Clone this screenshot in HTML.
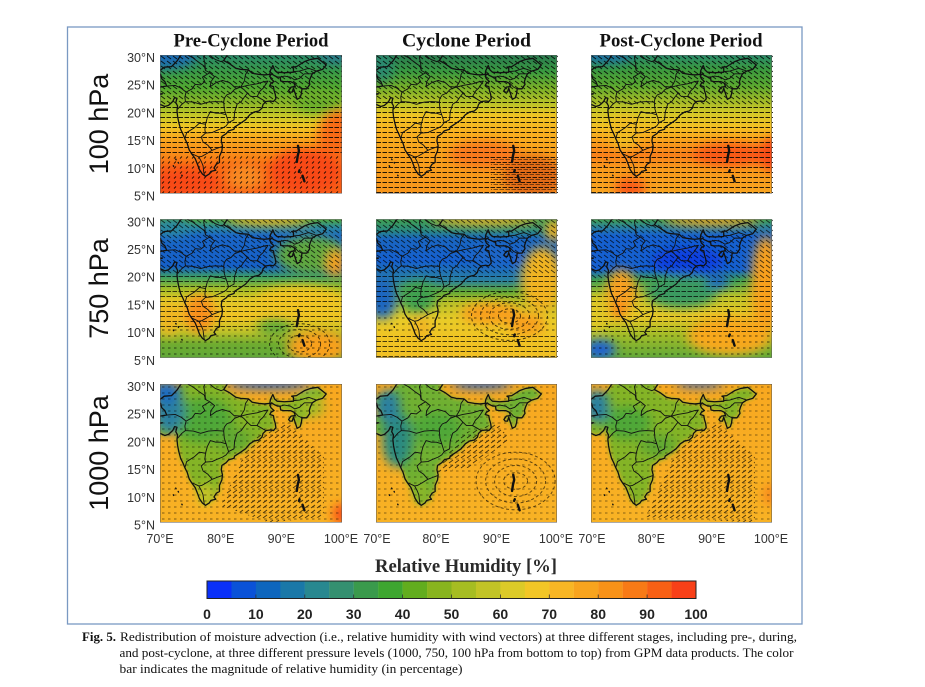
<!DOCTYPE html>
<html><head><meta charset="utf-8"><style>html,body{margin:0;padding:0;background:#fff}svg{display:block}</style></head><body>
<svg width="925" height="687" viewBox="0 0 925 687" xmlns="http://www.w3.org/2000/svg">
<defs>
<filter id="bl" filterUnits="userSpaceOnUse" x="55" y="-45" width="60" height="55"><feGaussianBlur stdDeviation="0.9"/></filter>
<filter id="bs" filterUnits="userSpaceOnUse" x="55" y="-45" width="60" height="55"><feGaussianBlur stdDeviation="0.4"/></filter>
<pattern id="H" width="6" height="5" patternUnits="userSpaceOnUse"><path d="M0.5,2.5H5" stroke="#000" stroke-width="1"/></pattern>
<pattern id="D" width="6" height="5" patternUnits="userSpaceOnUse"><path d="M1,1L5,4" stroke="#000" stroke-width="0.9"/></pattern>
<pattern id="U" width="6" height="5" patternUnits="userSpaceOnUse"><path d="M1,4L5,1" stroke="#000" stroke-width="0.9"/></pattern>
<pattern id="S" width="6" height="6" patternUnits="userSpaceOnUse"><path d="M2,3H4.5" stroke="#000" stroke-width="0.9"/></pattern>
<pattern id="T" width="6" height="5" patternUnits="userSpaceOnUse"><path d="M2,3.5L4,1.5" stroke="#000" stroke-width="0.9"/></pattern>
<clipPath id="cp"><rect x="0" y="0" width="182" height="138.5"/></clipPath>
<path id="india" vector-effect="non-scaling-stroke" stroke-linejoin="round" d="M68.2,-23.7 L68.8,-24.3 L70.0,-24.2 L71.1,-24.4 L70.8,-25.2 L70.3,-25.7 L70.1,-26.5 L69.5,-26.8 L70.0,-27.2 L70.7,-27.8 L71.9,-27.9 L72.8,-28.9 L73.4,-29.9 L74.0,-30.4 L74.6,-31.1 L76,-33 L79,-32.5 L79.2,-31.3 L80.1,-30.6 L81.1,-30.0 L80.5,-29.0 L81.5,-28.4 L82.5,-27.6 L83.3,-27.4 L84.6,-27.3 L85.2,-26.7 L86.3,-26.5 L87.2,-26.4 L88.1,-26.5 L88.2,-27.2 L88.6,-28.1 L88.9,-27.3 L89.3,-26.9 L90.5,-26.8 L92.0,-26.9 L92.0,-27.6 L91.7,-27.8 L92.5,-27.9 L93.8,-28.8 L94.8,-29.2 L96.0,-29.4 L96.6,-28.9 L97.4,-28.2 L96.8,-27.4 L95.8,-27.1 L95.1,-26.6 L94.8,-25.9 L94.6,-25.2 L94.7,-24.7 L94.2,-23.9 L93.4,-23.9 L93.3,-23.0 L93.1,-22.3 L92.6,-22.0 L92.3,-23.0 L92.0,-24.0 L91.8,-23.3 L91.4,-23.3 L91.2,-23.6 L91.6,-24.2 L92.3,-24.3 L92.1,-24.9 L91.5,-25.2 L90.4,-25.2 L89.9,-25.3 L89.8,-26.0 L89.4,-26.0 L88.8,-26.3 L88.4,-26.6 L88.1,-26.2 L88.3,-25.7 L88.8,-25.2 L88.3,-24.9 L88.1,-24.5 L88.7,-24.3 L88.8,-23.6 L89.0,-22.9 L89.1,-22.1 L88.7,-21.6 L88.2,-21.7 L87.5,-21.6 L87.0,-21.1 L86.8,-20.4 L86.3,-19.9 L85.5,-19.7 L84.8,-19.2 L84.1,-18.3 L83.3,-17.7 L82.3,-17.0 L82.2,-16.6 L81.3,-16.3 L80.9,-15.8 L80.2,-15.3 L80.1,-14.5 L80.3,-13.6 L80.2,-12.7 L79.8,-11.7 L79.8,-10.6 L79.3,-10.3 L78.9,-9.6 L79.2,-9.2 L78.4,-9.0 L78.1,-8.5 L77.5,-8.1 L77.0,-8.5 L76.5,-9.3 L76.2,-10.2 L75.8,-11.3 L75.2,-12.2 L74.8,-12.9 L74.5,-14.0 L74.1,-14.9 L73.8,-15.7 L73.4,-16.6 L73.1,-17.8 L72.9,-18.9 L72.8,-20.0 L72.9,-20.8 L72.6,-21.4 L72.8,-22.2 L72.4,-22.3 L72.1,-21.6 L71.4,-20.9 L70.8,-20.7 L70.0,-21.1 L69.2,-22.0 L69.0,-22.4 L69.8,-22.8 L70.4,-23.0 L69.7,-23.0 L68.7,-23.2 Z"/>
<g id="lines" fill="none" stroke="#111" stroke-linejoin="round">
<use href="#india" stroke-width="1.3"/>
<path vector-effect="non-scaling-stroke" stroke-width="0.9" d="M71.1,-24.4 L72.5,-24.5 L73.5,-24.0 L74.3,-23.3 L74.1,-22.4 L74.2,-21.6 L73.6,-21.1 L72.9,-20.2 M74.3,-23.3 L75.3,-23.9 L75.8,-24.7 L76.7,-24.6 L77.4,-25.2 L77.0,-26.0 L78.2,-26.8 L77.5,-27.2 L77.3,-28.0 L76.6,-28.5 L75.4,-29.5 L74.5,-30.0 M77.5,-27.2 L77.4,-28.5 L77.2,-29.5 L77.6,-30.4 L78.4,-29.8 L79.1,-29.2 L80.1,-28.8 L80.5,-29.0 M78.2,-26.8 L79.0,-26.1 L78.4,-25.2 L78.3,-24.3 L79.2,-25.0 L80.3,-25.4 L81.5,-25.0 L82.2,-24.3 L83.3,-24.2 L83.9,-25.3 L84.1,-26.5 L84.6,-27.3 M74.2,-21.6 L75.5,-21.5 L76.7,-21.1 L78.0,-21.5 L79.2,-21.6 L80.5,-21.5 L80.6,-22.2 L81.0,-22.8 L81.7,-23.1 L82.3,-23.8 L83.3,-24.2 M80.5,-21.5 L80.6,-20.2 L80.9,-19.2 L81.3,-17.8 L82.2,-18.3 L82.3,-19.7 L82.7,-21.1 L83.4,-21.6 L83.9,-22.4 L84.4,-23.1 L83.8,-23.8 L83.3,-24.2 M83.3,-24.2 L84.4,-24.5 L86.0,-24.8 L87.2,-25.2 L87.8,-25.3 L87.0,-24.0 L86.5,-23.5 L86.0,-22.5 L86.8,-22.0 L87.4,-21.6 M84.4,-23.1 L85.0,-22.5 L86.0,-22.5 M80.9,-19.2 L80.0,-19.5 L79.2,-19.5 L78.3,-19.8 L77.8,-18.7 L77.5,-17.5 L76.5,-17.7 L75.7,-16.9 L74.4,-16.0 L74.1,-14.9 M81.3,-17.8 L80.9,-17.2 L80.3,-16.8 L79.4,-16.4 L78.6,-16.0 L77.5,-15.9 L77.4,-16.5 L77.5,-17.5 M77.5,-15.9 L76.8,-15.2 L77.1,-14.3 L77.9,-13.7 L78.6,-12.8 L79.3,-13.1 L80.3,-13.5 M78.6,-12.8 L77.7,-12.2 L76.9,-11.7 L76.4,-11.6 L75.2,-12.2 M76.4,-11.6 L76.8,-10.8 L77.1,-10.0 L77.2,-9.0 L77.3,-8.3 M89.8,-26.0 L90.5,-26.2 L91.5,-26.0 L92.2,-25.5 L93.0,-25.8 L93.8,-26.6 L95.1,-26.6 M92.2,-24.9 L92.8,-24.2 L93.4,-23.9 M92.0,-27.0 L93.0,-27.1 L94.5,-27.6 L95.8,-27.1"/>
<path vector-effect="non-scaling-stroke" stroke-width="2.4" stroke-linecap="round" d="M92.75,-13.6 L92.9,-12.7 L92.7,-11.8 L92.55,-10.7 M93.0,-9.2 L92.9,-8.9 M93.5,-8.2 L93.8,-7.2"/>
<path vector-effect="non-scaling-stroke" stroke-width="1.4" stroke-linecap="round" d="M72.6,-11.2 l0.05,0.1 M73.0,-10.6 l0.05,0.1 M72.2,-10.0 l0.05,0.1 M73.6,-8.3 l0.05,0.1"/>
<rect x="70" y="-30" width="30" height="25" fill="none" stroke="#555" stroke-width="1" vector-effect="non-scaling-stroke"/>
</g>
<linearGradient id="g11" gradientUnits="userSpaceOnUse" x1="0" y1="-30" x2="0" y2="-5"><stop offset="0" stop-color="#2a8a6a"/><stop offset=".12" stop-color="#3a9a46"/><stop offset=".24" stop-color="#52a830"/><stop offset=".36" stop-color="#94b828"/><stop offset=".44" stop-color="#c8c828"/><stop offset=".52" stop-color="#f0c424"/><stop offset=".6" stop-color="#f8a81e"/><stop offset=".72" stop-color="#f88a18"/><stop offset=".8" stop-color="#f86a16"/><stop offset="1" stop-color="#f85c16"/></linearGradient>
<linearGradient id="g12" gradientUnits="userSpaceOnUse" x1="0" y1="-30" x2="0" y2="-5"><stop offset="0" stop-color="#2a7a50"/><stop offset=".12" stop-color="#3a9a40"/><stop offset=".24" stop-color="#7ab028"/><stop offset=".36" stop-color="#c0c428"/><stop offset=".44" stop-color="#f0c424"/><stop offset=".56" stop-color="#f8b020"/><stop offset=".72" stop-color="#f8a01c"/><stop offset="1" stop-color="#f8961c"/></linearGradient>
<linearGradient id="g13" gradientUnits="userSpaceOnUse" x1="0" y1="-30" x2="0" y2="-5"><stop offset="0" stop-color="#2a8a6a"/><stop offset=".1" stop-color="#3a9840"/><stop offset=".22" stop-color="#5aa830"/><stop offset=".32" stop-color="#9ab828"/><stop offset=".42" stop-color="#d4c828"/><stop offset=".52" stop-color="#f4c024"/><stop offset=".62" stop-color="#f8a01c"/><stop offset=".72" stop-color="#f8801a"/><stop offset=".82" stop-color="#f89a1c"/><stop offset="1" stop-color="#f8a420"/></linearGradient>
<linearGradient id="g21" gradientUnits="userSpaceOnUse" x1="0" y1="-30" x2="0" y2="-5"><stop offset="0" stop-color="#50a840"/><stop offset=".06" stop-color="#2a88a0"/><stop offset=".12" stop-color="#1a66c8"/><stop offset=".34" stop-color="#1560c8"/><stop offset=".42" stop-color="#40a060"/><stop offset=".5" stop-color="#a0bc28"/><stop offset=".58" stop-color="#e0c828"/><stop offset=".7" stop-color="#f0c424"/><stop offset=".8" stop-color="#c8c428"/><stop offset=".9" stop-color="#70ac30"/><stop offset="1" stop-color="#60a838"/></linearGradient>
<linearGradient id="g22" gradientUnits="userSpaceOnUse" x1="0" y1="-30" x2="0" y2="-5"><stop offset="0" stop-color="#40a050"/><stop offset=".08" stop-color="#2a8a80"/><stop offset=".14" stop-color="#1a66c0"/><stop offset=".3" stop-color="#1560d0"/><stop offset=".44" stop-color="#2a80a0"/><stop offset=".52" stop-color="#60a838"/><stop offset=".6" stop-color="#b8c028"/><stop offset=".72" stop-color="#e8cc28"/><stop offset=".85" stop-color="#f0c424"/><stop offset="1" stop-color="#f0c024"/></linearGradient>
<linearGradient id="g23" gradientUnits="userSpaceOnUse" x1="0" y1="-30" x2="0" y2="-5"><stop offset="0" stop-color="#40a050"/><stop offset=".06" stop-color="#2a80a0"/><stop offset=".12" stop-color="#1560d0"/><stop offset=".36" stop-color="#1560d0"/><stop offset=".44" stop-color="#40a050"/><stop offset=".56" stop-color="#c0c428"/><stop offset=".7" stop-color="#e8c828"/><stop offset=".84" stop-color="#a0bc28"/><stop offset="1" stop-color="#60a838"/></linearGradient>
<linearGradient id="g3" gradientUnits="userSpaceOnUse" x1="0" y1="-30" x2="0" y2="-5"><stop offset="0" stop-color="#f8a820"/><stop offset="1" stop-color="#f8b224"/></linearGradient>
</defs>

<rect x="67.5" y="27" width="734.5" height="597" fill="none" stroke="#7a99c2" stroke-width="1.3"/>

<g font-family="Liberation Serif, serif" font-weight="bold" font-size="18.5" fill="#111" text-anchor="middle">
<text x="251" y="46.5" textLength="155" lengthAdjust="spacingAndGlyphs">Pre-Cyclone Period</text>
<text x="466.5" y="46.5" textLength="129" lengthAdjust="spacingAndGlyphs">Cyclone Period</text>
<text x="681" y="46.5" textLength="163" lengthAdjust="spacingAndGlyphs">Post-Cyclone Period</text>
</g>

<g font-family="Liberation Sans, sans-serif" font-size="27" fill="#111" text-anchor="middle">
<text transform="translate(108,124) rotate(-90)">100 hPa</text>
<text transform="translate(108,288.5) rotate(-90)">750 hPa</text>
<text transform="translate(108,453) rotate(-90)">1000 hPa</text>
</g>

<g font-family="Liberation Sans, sans-serif" font-size="12.5" fill="#333" text-anchor="end">
<text x="155" y="62">30°N</text><text x="155" y="89.7">25°N</text><text x="155" y="117.4">20°N</text><text x="155" y="145.1">15°N</text><text x="155" y="172.8">10°N</text><text x="155" y="200.5">5°N</text>
<text x="155" y="226.3">30°N</text><text x="155" y="254">25°N</text><text x="155" y="281.7">20°N</text><text x="155" y="309.4">15°N</text><text x="155" y="337.1">10°N</text><text x="155" y="364.8">5°N</text>
<text x="155" y="391">30°N</text><text x="155" y="418.7">25°N</text><text x="155" y="446.4">20°N</text><text x="155" y="474.1">15°N</text><text x="155" y="501.8">10°N</text><text x="155" y="529.5">5°N</text>
</g>
<g font-family="Liberation Sans, sans-serif" font-size="12.5" fill="#333" text-anchor="middle">
<text x="160" y="542.8">70°E</text><text x="220.7" y="542.8">80°E</text><text x="281.3" y="542.8">90°E</text><text x="341" y="542.8">100°E</text>
<text x="377" y="542.8">70°E</text><text x="436" y="542.8">80°E</text><text x="496.5" y="542.8">90°E</text><text x="556" y="542.8">100°E</text>
<text x="592" y="542.8">70°E</text><text x="651.3" y="542.8">80°E</text><text x="711.7" y="542.8">90°E</text><text x="771" y="542.8">100°E</text>
</g>

<!-- ===== Row 1 ===== -->
<svg x="160" y="55" width="182" height="138.5" viewBox="70 -30 30 25" preserveAspectRatio="none">
<rect x="60" y="-40" width="50" height="45" fill="url(#g11)"/>
<g filter="url(#bl)">
<ellipse cx="71" cy="-30" rx="5" ry="2.5" fill="#1a6cb0"/>
<ellipse cx="99" cy="-30" rx="3" ry="1.5" fill="#2a7a8a"/>
<ellipse cx="99.5" cy="-15" rx="3.5" ry="5" fill="#f86a18"/>
<ellipse cx="74" cy="-7" rx="6" ry="2.5" fill="#f84a18"/>
<ellipse cx="94" cy="-9" rx="6" ry="4" fill="#f84a18"/>
<ellipse cx="84" cy="-8" rx="3" ry="2.5" fill="#f88a20"/>
<ellipse cx="96" cy="-21.5" rx="4" ry="2" fill="#6aae2c"/>
</g>
</svg>
<g transform="translate(160,55)" clip-path="url(#cp)" opacity=".85">
<rect x="0" y="0" width="182" height="50" fill="url(#D)"/><rect x="0" y="50" width="182" height="50" fill="url(#H)"/><rect x="0" y="100" width="182" height="39" fill="url(#T)"/>
</g>
<svg x="160" y="55" width="182" height="138.5" viewBox="70 -30 30 25" preserveAspectRatio="none"><use href="#lines"/></svg>

<svg x="376" y="55" width="181" height="138.5" viewBox="70 -30 30 25" preserveAspectRatio="none">
<rect x="60" y="-40" width="50" height="45" fill="url(#g12)"/>
<g filter="url(#bl)">
<ellipse cx="96" cy="-8" rx="5" ry="4" fill="#e06a18"/>
<ellipse cx="88" cy="-12" rx="6" ry="2.5" fill="#f8781a"/>
<ellipse cx="71" cy="-28" rx="2" ry="3" fill="#2a8a70"/>
</g>
</svg>
<g transform="translate(376,55)" clip-path="url(#cp)" opacity=".85">
<rect x="0" y="0" width="182" height="44" fill="url(#D)"/><rect x="0" y="44" width="182" height="95" fill="url(#H)"/>
<g transform="translate(3,2)" opacity=".55"><rect x="112" y="98" width="70" height="40" fill="url(#H)"/></g>
</g>
<svg x="376" y="55" width="181" height="138.5" viewBox="70 -30 30 25" preserveAspectRatio="none"><use href="#lines"/></svg>

<svg x="591" y="55" width="181" height="138.5" viewBox="70 -30 30 25" preserveAspectRatio="none">
<rect x="60" y="-40" width="50" height="45" fill="url(#g13)"/>
<g filter="url(#bl)">
<ellipse cx="72" cy="-30" rx="5" ry="1.5" fill="#1a70a0"/>
<ellipse cx="93" cy="-12" rx="6" ry="2" fill="#f85818"/>
<ellipse cx="100" cy="-12" rx="2" ry="3" fill="#f84818"/>
<ellipse cx="76.5" cy="-6" rx="2.5" ry="1.8" fill="#f85818"/>
<ellipse cx="75.5" cy="-16" rx="2.5" ry="3" fill="#f0bc24"/>
</g>
</svg>
<g transform="translate(591,55)" clip-path="url(#cp)" opacity=".85">
<rect x="0" y="0" width="182" height="50" fill="url(#D)"/><rect x="0" y="50" width="182" height="89" fill="url(#H)"/>
</g>
<svg x="591" y="55" width="181" height="138.5" viewBox="70 -30 30 25" preserveAspectRatio="none"><use href="#lines"/></svg>

<!-- ===== Row 2 ===== -->
<svg x="160" y="219.3" width="182" height="138.5" viewBox="70 -30 30 25" preserveAspectRatio="none">
<rect x="60" y="-40" width="50" height="45" fill="url(#g21)"/>
<g filter="url(#bl)">
<ellipse cx="88" cy="-29.8" rx="7" ry="0.9" fill="#f0b020"/>
<ellipse cx="95" cy="-23.5" rx="6" ry="3.5" fill="#60a840"/>
<ellipse cx="99" cy="-22" rx="1.5" ry="2.5" fill="#f8a01c"/>
<ellipse cx="93" cy="-15.5" rx="7" ry="2.5" fill="#f0c424"/>
<ellipse cx="76.5" cy="-13" rx="2.5" ry="3.5" fill="#f8901a"/>
<ellipse cx="71.5" cy="-12" rx="1.5" ry="3" fill="#f0b424"/>
<ellipse cx="89" cy="-10.5" rx="3" ry="1.5" fill="#60a838"/>
<ellipse cx="96" cy="-7" rx="5" ry="3" fill="#f8a01c"/>
<ellipse cx="72" cy="-28.5" rx="3" ry="1.5" fill="#2a88a0"/>
</g>
</svg>
<g transform="translate(160,219)" clip-path="url(#cp)" opacity=".7">
<rect x="0" y="0" width="182" height="55" fill="url(#D)"/><rect x="0" y="55" width="182" height="55" fill="url(#H)"/><rect x="0" y="110" width="182" height="29" fill="url(#S)"/>
<g fill="none" stroke="#000" stroke-width="1" stroke-dasharray="3 2.5"><ellipse cx="139.6" cy="124.7" rx="12" ry="8.3"/><ellipse cx="139.6" cy="124.7" rx="21" ry="14.4"/><ellipse cx="139.6" cy="124.7" rx="30" ry="20"/></g>
</g>
<svg x="160" y="219.3" width="182" height="138.5" viewBox="70 -30 30 25" preserveAspectRatio="none"><use href="#lines"/></svg>

<svg x="376" y="219.3" width="181" height="138.5" viewBox="70 -30 30 25" preserveAspectRatio="none">
<rect x="60" y="-40" width="50" height="45" fill="url(#g22)"/>
<g filter="url(#bl)">
<ellipse cx="88" cy="-29.8" rx="9" ry="0.9" fill="#f0b020"/>
<ellipse cx="97.5" cy="-19" rx="3.5" ry="6" fill="#f0b424"/>
<ellipse cx="99.5" cy="-28" rx="1.5" ry="2" fill="#f0b020"/>
<ellipse cx="89" cy="-23.5" rx="4" ry="2" fill="#1a66c8"/>
<ellipse cx="71" cy="-16" rx="2.5" ry="4" fill="#1a66c0"/>
<ellipse cx="77" cy="-16" rx="3" ry="3" fill="#40a050"/>
<ellipse cx="89" cy="-13" rx="5" ry="2" fill="#f8a01c"/>
<ellipse cx="95" cy="-11" rx="3" ry="2" fill="#f8a01c"/>
<ellipse cx="77.5" cy="-10.5" rx="1.5" ry="2" fill="#f0b424"/>
</g>
</svg>
<g transform="translate(376,219)" clip-path="url(#cp)" opacity=".7">
<rect x="0" y="0" width="182" height="55" fill="url(#D)"/><rect x="0" y="55" width="182" height="28" fill="url(#H)"/><rect x="0" y="83" width="182" height="33" fill="url(#S)"/><rect x="0" y="116" width="182" height="23" fill="url(#H)"/>
<g fill="none" stroke="#000" stroke-width="1" stroke-dasharray="3 2.5"><ellipse cx="133.5" cy="97" rx="11" ry="7.2"/><ellipse cx="133.5" cy="97" rx="20" ry="13.3"/><ellipse cx="133.5" cy="97" rx="29" ry="18.8"/><ellipse cx="133.5" cy="97" rx="38" ry="24.4"/></g>
</g>
<svg x="376" y="219.3" width="181" height="138.5" viewBox="70 -30 30 25" preserveAspectRatio="none"><use href="#lines"/></svg>

<svg x="591" y="219.3" width="181" height="138.5" viewBox="70 -30 30 25" preserveAspectRatio="none">
<rect x="60" y="-40" width="50" height="45" fill="url(#g23)"/>
<g filter="url(#bl)">
<ellipse cx="90" cy="-29.8" rx="8" ry="0.9" fill="#f8a01c"/>
<ellipse cx="86" cy="-22.5" rx="6" ry="2.5" fill="#0a40e0"/>
<ellipse cx="75" cy="-17" rx="2.5" ry="4" fill="#f8a020"/>
<ellipse cx="74.5" cy="-13.5" rx="1.2" ry="1.2" fill="#f87818"/>
<ellipse cx="85" cy="-17" rx="6" ry="3" fill="#3a9a60"/>
<ellipse cx="91" cy="-19" rx="2" ry="1.5" fill="#1a66c0"/>
<ellipse cx="99" cy="-18" rx="2.5" ry="9" fill="#f8a01c"/>
<ellipse cx="93" cy="-9" rx="7" ry="3.5" fill="#f8a81e"/>
<ellipse cx="71.5" cy="-6.5" rx="2.5" ry="1.8" fill="#1a60d0"/>
<ellipse cx="71" cy="-13" rx="2" ry="3" fill="#e0c828"/>
</g>
</svg>
<g transform="translate(591,219)" clip-path="url(#cp)" opacity=".7">
<rect x="0" y="0" width="182" height="61" fill="url(#D)"/><rect x="0" y="61" width="182" height="55" fill="url(#H)"/><rect x="0" y="116" width="182" height="23" fill="url(#S)"/>
</g>
<svg x="591" y="219.3" width="181" height="138.5" viewBox="70 -30 30 25" preserveAspectRatio="none"><use href="#lines"/></svg>

<!-- ===== Row 3 ===== -->
<svg x="160" y="384" width="182" height="138.5" viewBox="70 -30 30 25" preserveAspectRatio="none">
<rect x="60" y="-40" width="50" height="45" fill="url(#g3)"/>
<use href="#india" fill="#84b428" stroke="none" filter="url(#bs)"/>
<g filter="url(#bl)">
<ellipse cx="77" cy="-23.5" rx="5" ry="4" fill="#50a838"/>
<ellipse cx="82" cy="-20" rx="3" ry="2" fill="#60a830"/>
<ellipse cx="71.5" cy="-25" rx="2.5" ry="4" fill="#2a80a0"/>
<ellipse cx="71" cy="-28.5" rx="2.5" ry="2" fill="#1a6cc0"/>
<ellipse cx="88" cy="-30" rx="7" ry="0.8" fill="#1a60d0"/>
<ellipse cx="77.5" cy="-10" rx="1.2" ry="2" fill="#d8c828"/>
<ellipse cx="100" cy="-6.5" rx="1.5" ry="2" fill="#f85018"/>
<ellipse cx="95" cy="-26" rx="2" ry="2" fill="#a0bc28"/>
</g>
</svg>
<g transform="translate(160,384)" clip-path="url(#cp)">
<rect x="0" y="0" width="182" height="139" fill="url(#S)" opacity=".55"/>
<polygon points="60.7,121.9 91,55.4 127.5,38.8 163.9,72 163.9,133 109.3,138.5" fill="url(#U)" opacity=".7"/>
</g>
<svg x="160" y="384" width="182" height="138.5" viewBox="70 -30 30 25" preserveAspectRatio="none"><use href="#lines"/></svg>

<svg x="376" y="384" width="181" height="138.5" viewBox="70 -30 30 25" preserveAspectRatio="none">
<rect x="60" y="-40" width="50" height="45" fill="url(#g3)"/>
<use href="#india" fill="#70b030" stroke="none" filter="url(#bs)"/>
<g filter="url(#bl)">
<ellipse cx="73.5" cy="-20" rx="2.5" ry="5" fill="#2a8a80"/>
<ellipse cx="72" cy="-26" rx="2" ry="3" fill="#2a80a0"/>
<ellipse cx="87.5" cy="-30" rx="5" ry="0.8" fill="#1a60d0"/>
<ellipse cx="80" cy="-22" rx="4" ry="3" fill="#50a838"/>
<ellipse cx="77.5" cy="-10.5" rx="1.2" ry="2" fill="#90b828"/>
</g>
</svg>
<g transform="translate(376,384)" clip-path="url(#cp)">
<rect x="0" y="0" width="182" height="139" fill="url(#S)" opacity=".5"/>
<polygon points="60.7,88.6 85,49.9 121.4,38.8 133.5,55.4 97.1,83.1" fill="url(#U)" opacity=".7"/>
<g fill="none" stroke="#000" stroke-width="1" stroke-dasharray="3 2.5" opacity=".6"><ellipse cx="139.6" cy="97" rx="12" ry="8.3"/><ellipse cx="139.6" cy="97" rx="21" ry="15.5"/><ellipse cx="139.6" cy="97" rx="30" ry="22"/><ellipse cx="139.6" cy="97" rx="39.5" ry="28.8"/></g>
</g>
<svg x="376" y="384" width="181" height="138.5" viewBox="70 -30 30 25" preserveAspectRatio="none"><use href="#lines"/></svg>

<svg x="591" y="384" width="181" height="138.5" viewBox="70 -30 30 25" preserveAspectRatio="none">
<rect x="60" y="-40" width="50" height="45" fill="url(#g3)"/>
<use href="#india" fill="#84b428" stroke="none" filter="url(#bs)"/>
<g filter="url(#bl)">
<ellipse cx="76" cy="-23" rx="4" ry="3" fill="#50a838"/>
<ellipse cx="71" cy="-26" rx="2" ry="3" fill="#2a80a0"/>
<ellipse cx="88" cy="-30" rx="4" ry="0.6" fill="#2060d0"/>
<ellipse cx="100" cy="-10" rx="1.5" ry="2" fill="#f88a1c"/>
<ellipse cx="81" cy="-19" rx="3" ry="2" fill="#60a830"/>
</g>
</svg>
<g transform="translate(591,384)" clip-path="url(#cp)">
<rect x="0" y="0" width="182" height="139" fill="url(#S)" opacity=".5"/>
<polygon points="54.6,133 91,55.4 127.5,38.8 163.9,72 163.9,138.5" fill="url(#U)" opacity=".7"/>
</g>
<svg x="591" y="384" width="181" height="138.5" viewBox="70 -30 30 25" preserveAspectRatio="none"><use href="#lines"/></svg>

<!-- colorbar -->
<text x="466" y="572" font-family="Liberation Serif, serif" font-weight="bold" font-size="18.5" fill="#2a2a2a" text-anchor="middle" textLength="182" lengthAdjust="spacingAndGlyphs">Relative Humidity [%]</text>
<g>
<rect x="207" y="581" width="24.6" height="17.5" fill="#0a30f8"/>
<rect x="231.45" y="581" width="24.6" height="17.5" fill="#0a52d8"/>
<rect x="255.9" y="581" width="24.6" height="17.5" fill="#0e66be"/>
<rect x="280.35" y="581" width="24.6" height="17.5" fill="#1a78a8"/>
<rect x="304.8" y="581" width="24.6" height="17.5" fill="#288890"/>
<rect x="329.25" y="581" width="24.6" height="17.5" fill="#349070"/>
<rect x="353.7" y="581" width="24.6" height="17.5" fill="#3a9a4c"/>
<rect x="378.15" y="581" width="24.6" height="17.5" fill="#3ea630"/>
<rect x="402.6" y="581" width="24.6" height="17.5" fill="#62ad1e"/>
<rect x="427.05" y="581" width="24.6" height="17.5" fill="#88b41e"/>
<rect x="451.5" y="581" width="24.6" height="17.5" fill="#a6bd22"/>
<rect x="475.95" y="581" width="24.6" height="17.5" fill="#c2c426"/>
<rect x="500.4" y="581" width="24.6" height="17.5" fill="#dcca28"/>
<rect x="524.85" y="581" width="24.6" height="17.5" fill="#f2c626"/>
<rect x="549.3" y="581" width="24.6" height="17.5" fill="#f8b624"/>
<rect x="573.75" y="581" width="24.6" height="17.5" fill="#f8a41e"/>
<rect x="598.2" y="581" width="24.6" height="17.5" fill="#f89218"/>
<rect x="622.65" y="581" width="24.6" height="17.5" fill="#f87a16"/>
<rect x="647.1" y="581" width="24.6" height="17.5" fill="#f86014"/>
<rect x="671.55" y="581" width="24.45" height="17.5" fill="#f84018"/>
</g>
<rect x="207" y="581" width="489" height="17.5" fill="none" stroke="#222" stroke-width="1"/>
<path d="M255.9,598.5v-4M304.8,598.5v-4M353.7,598.5v-4M402.6,598.5v-4M451.5,598.5v-4M500.4,598.5v-4M549.3,598.5v-4M598.2,598.5v-4M647.1,598.5v-4" stroke="#333" stroke-width="0.8"/>
<g font-family="Liberation Sans, sans-serif" font-weight="bold" font-size="14" fill="#222" text-anchor="middle">
<text x="207" y="619">0</text><text x="255.9" y="619">10</text><text x="304.8" y="619">20</text><text x="353.7" y="619">30</text><text x="402.6" y="619">40</text><text x="451.5" y="619">50</text><text x="500.4" y="619">60</text><text x="549.3" y="619">70</text><text x="598.2" y="619">80</text><text x="647.1" y="619">90</text><text x="696" y="619">100</text>
</g>

<g font-family="Liberation Serif, serif" font-size="13" fill="#111">
<text x="82" y="641" font-weight="bold" textLength="34" lengthAdjust="spacingAndGlyphs">Fig. 5.</text>
<text x="120" y="641" textLength="677" lengthAdjust="spacingAndGlyphs">Redistribution of moisture advection (i.e., relative humidity with wind vectors) at three different stages, including pre-, during,</text>
<text x="119.5" y="657" textLength="674" lengthAdjust="spacingAndGlyphs">and post-cyclone, at three different pressure levels (1000, 750, 100 hPa from bottom to top) from GPM data products. The color</text>
<text x="119.5" y="673" textLength="343" lengthAdjust="spacingAndGlyphs">bar indicates the magnitude of relative humidity (in percentage)</text>
</g>
</svg>
</body></html>
